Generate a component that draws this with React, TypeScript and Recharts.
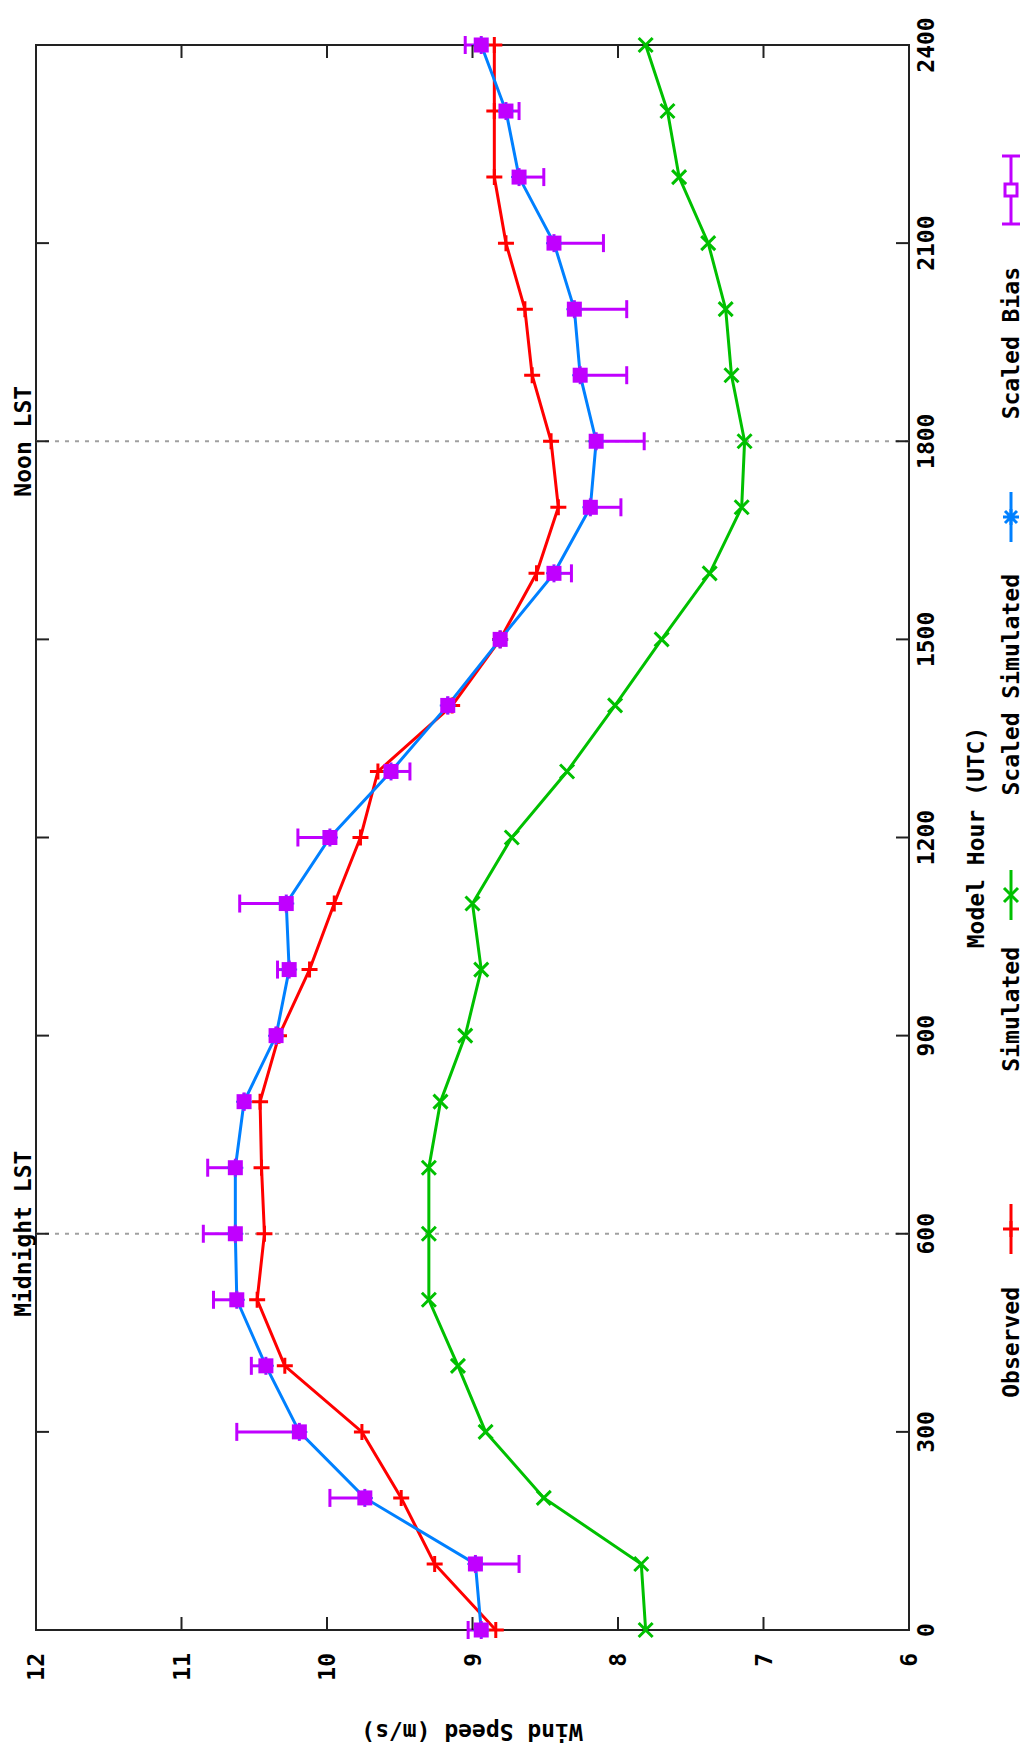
import React from 'react'
import { LineChart, Line, XAxis, YAxis, ReferenceLine, ReferenceArea, ErrorBar } from 'recharts'

const hours = [0, 100, 200, 300, 400, 500, 600, 700, 800, 900, 1000, 1100, 1200, 1300, 1400, 1500, 1600, 1700, 1800, 1900, 2000, 2100, 2200, 2300, 2400]
const observed = [8.84, 9.26, 9.49, 9.76, 10.29, 10.48, 10.43, 10.45, 10.46, 10.33, 10.12, 9.95, 9.77, 9.65, 9.14, 8.81, 8.56, 8.41, 8.46, 8.59, 8.64, 8.77, 8.85, 8.85, 8.85]
const simulated = [7.81, 7.84, 8.51, 8.91, 9.1, 9.3, 9.3, 9.3, 9.22, 9.05, 8.94, 9.0, 8.73, 8.35, 8.02, 7.7, 7.37, 7.15, 7.13, 7.22, 7.26, 7.38, 7.58, 7.66, 7.81]
const scaledSimulated = [8.94, 8.98, 9.74, 10.19, 10.42, 10.62, 10.63, 10.63, 10.57, 10.35, 10.26, 10.28, 9.98, 9.56, 9.17, 8.81, 8.44, 8.19, 8.15, 8.26, 8.3, 8.44, 8.68, 8.77, 8.94]
// lower / upper ends of the scaled bias error bars
const biasLow = [8.94, 8.68, 9.74, 10.19, 10.42, 10.62, 10.63, 10.63, 10.57, 10.35, 10.26, 10.28, 9.98, 9.43, 9.17, 8.81, 8.32, 7.98, 7.82, 7.94, 7.94, 8.1, 8.51, 8.68, 8.94]
const biasHigh = [9.03, 8.98, 9.98, 10.62, 10.52, 10.78, 10.85, 10.82, 10.57, 10.35, 10.34, 10.6, 10.2, 9.56, 9.17, 8.81, 8.44, 8.19, 8.15, 8.26, 8.3, 8.44, 8.68, 8.77, 9.05]

const hourTicks = [0, 300, 600, 900, 1200, 1500, 1800, 2100, 2400]
const speedTicks = [6, 7, 8, 9, 10, 11, 12]
const seriesNames = ['Observed', 'Simulated', 'Scaled Simulated', 'Scaled Bias']

// the plot is drawn landscape and turned a quarter turn to fit the page
const W = 1754
const H = 1029
const LEFT = 124
const RIGHT = 1709
const TOP = 36
const BOTTOM = 909
const TICK = 13
const FONT = '"DejaVu Sans Mono", monospace'
const FS = 23

const RED = '#ff0000'
const GREEN = '#00c000'
const BLUE = '#0080ff'
const PURPLE = '#c000ff'
const INK = '#222222'

const data = hours.map((hour, i) => ({
  hour,
  observed: observed[i],
  simulated: simulated[i],
  scaled: scaledSimulated[i],
  bias: scaledSimulated[i],
  biasErr: [scaledSimulated[i] - biasLow[i], biasHigh[i] - scaledSimulated[i]],
}))

const plusPath = (x: number, y: number, r: number) => `M${x - r},${y}H${x + r}M${x},${y - r}V${y + r}`
const crossPath = (x: number, y: number, r: number) => `M${x - r},${y - r}L${x + r},${y + r}M${x - r},${y + r}L${x + r},${y - r}`

const PlusDot = (p: any) => (
  <path key={`o${p.index}`} d={plusPath(p.cx, p.cy, 8)} stroke={RED} strokeWidth={3} fill="none" />
)
const CrossDot = (p: any) => (
  <path key={`s${p.index}`} d={crossPath(p.cx, p.cy, 7)} stroke={GREEN} strokeWidth={3} fill="none" />
)
const StarDot = (p: any) => (
  <path key={`c${p.index}`} d={plusPath(p.cx, p.cy, 8) + crossPath(p.cx, p.cy, 6)} stroke={BLUE} strokeWidth={2} fill="none" />
)
const SquareDot = (p: any) => (
  <rect key={`b${p.index}`} x={p.cx - 7.5} y={p.cy - 7.5} width={15} height={15} fill={PURPLE} />
)

const txt = { fontFamily: FONT, fontSize: FS, fontWeight: 700, fill: '#000' } as const

const HourTick = (p: any) => (
  <g>
    <line x1={p.x} x2={p.x} y1={BOTTOM} y2={BOTTOM - TICK} stroke={INK} strokeWidth={2} />
    <line x1={p.x} x2={p.x} y1={TOP} y2={TOP + TICK} stroke={INK} strokeWidth={2} />
    <text x={p.x} y={934} textAnchor="middle" {...txt}>{p.payload.value}</text>
  </g>
)

const SpeedTick = (p: any) => (
  <g>
    <line x1={LEFT} x2={LEFT + TICK} y1={p.y} y2={p.y} stroke={INK} strokeWidth={2} />
    <line x1={RIGHT} x2={RIGHT - TICK} y1={p.y} y2={p.y} stroke={INK} strokeWidth={2} />
    <text x={101} y={p.y + 8} textAnchor="end" {...txt}>{p.payload.value}</text>
  </g>
)

const lstLabel = (text: string) => (p: any) => (
  <text x={p.viewBox.x} y={31} textAnchor="middle" {...txt}>{text}</text>
)

// legend row: where each title ends and where its sample is centred
const legendTextEnd = [467, 807, 1180, 1487]
const legendX = [525, 859, 1237, 1564]
const LEG_Y = 1011

function LegendSample({ i, x }: { i: number; x: number }) {
  if (i === 3) {
    return (
      <g stroke={PURPLE} strokeWidth={3} fill="none">
        <line x1={x - 34} x2={x + 34} y1={LEG_Y} y2={LEG_Y} />
        <line x1={x - 34} x2={x - 34} y1={LEG_Y - 9} y2={LEG_Y + 9} />
        <line x1={x + 34} x2={x + 34} y1={LEG_Y - 9} y2={LEG_Y + 9} />
        <rect x={x - 6} y={LEG_Y - 6} width={12} height={12} fill="#fff" />
      </g>
    )
  }
  const color = [RED, GREEN, BLUE][i]
  const mark = i === 0 ? plusPath(x, LEG_Y, 8) : i === 1 ? crossPath(x, LEG_Y, 7) : plusPath(x, LEG_Y, 8) + crossPath(x, LEG_Y, 6)
  return (
    <g stroke={color} strokeWidth={3} fill="none">
      <line x1={x - 25} x2={x + 25} y1={LEG_Y} y2={LEG_Y} />
      <path d={mark} />
    </g>
  )
}

export default function App() {
  return (
    <div style={{ position: 'absolute', left: 0, top: 0, width: H, height: W, overflow: 'hidden', background: '#fff' }}>
      <div
        style={{
          position: 'absolute',
          left: 0,
          top: 0,
          width: W,
          height: H,
          transformOrigin: '0 0',
          transform: `translateY(${W}px) rotate(-90deg)`,
        }}
      >
        <LineChart width={W} height={H} data={data} margin={{ top: TOP, right: W - RIGHT, left: 0, bottom: 0 }}>
          <XAxis
            dataKey="hour"
            type="number"
            domain={[0, 2400]}
            ticks={hourTicks}
            interval={0}
            height={H - BOTTOM}
            axisLine={false}
            tickLine={false}
            tickSize={0}
            tick={HourTick}
          />
          <YAxis
            type="number"
            domain={[6, 12]}
            ticks={speedTicks}
            interval={0}
            width={LEFT}
            axisLine={false}
            tickLine={false}
            tickSize={0}
            tick={SpeedTick}
          />
          <ReferenceLine x={600} stroke="#a0a0a0" strokeWidth={2} strokeDasharray="4 6" label={lstLabel('Midnight LST')} />
          <ReferenceLine x={1800} stroke="#a0a0a0" strokeWidth={2} strokeDasharray="4 6" label={lstLabel('Noon LST')} />
          <Line dataKey="observed" name={seriesNames[0]} stroke={RED} strokeWidth={3} dot={PlusDot} isAnimationActive={false} />
          <Line dataKey="simulated" name={seriesNames[1]} stroke={GREEN} strokeWidth={3} dot={CrossDot} isAnimationActive={false} />
          <Line dataKey="scaled" name={seriesNames[2]} stroke={BLUE} strokeWidth={3} dot={StarDot} isAnimationActive={false} />
          <Line dataKey="bias" name={seriesNames[3]} stroke="none" dot={SquareDot} activeDot={false} isAnimationActive={false}>
            <ErrorBar dataKey="biasErr" direction="y" width={9} stroke={PURPLE} strokeWidth={3} />
          </Line>
          <ReferenceArea x1={0} x2={2400} y1={6} y2={12} fill="none" stroke={INK} strokeWidth={2} />
        </LineChart>
        <svg width={W} height={H} style={{ position: 'absolute', left: 0, top: 0, pointerEvents: 'none' }}>
          <text x={22} y={472} transform="rotate(-90 22 472)" textAnchor="middle" dominantBaseline="central" {...txt}>
            Wind Speed (m/s)
          </text>
          <text x={(LEFT + RIGHT) / 2} y={984} textAnchor="middle" {...txt}>Model Hour (UTC)</text>
          {seriesNames.map((name, i) => (
            <g key={name}>
              <text x={legendTextEnd[i]} y={LEG_Y + 8} textAnchor="end" {...txt}>{name}</text>
              <LegendSample i={i} x={legendX[i]} />
            </g>
          ))}
        </svg>
      </div>
    </div>
  )
}
